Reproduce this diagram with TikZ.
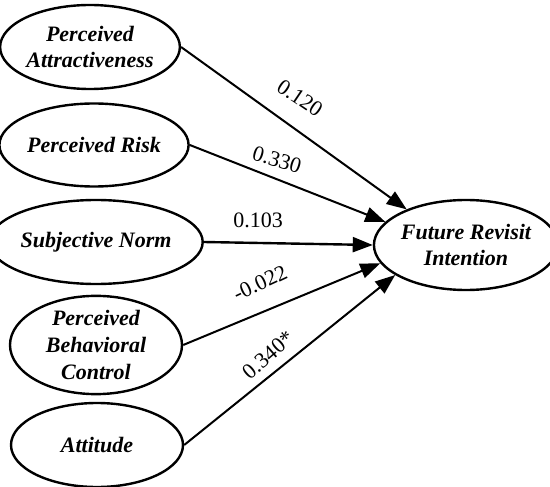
\documentclass[tikz,border=0pt]{standalone}
\usepackage{fontspec}
\setmainfont{Liberation Serif}
\usetikzlibrary{shapes.geometric,arrows.meta}
\tikzset{
  construct/.style={draw=black, line width=2.4pt, ellipse, inner sep=0pt,
    minimum width=172pt, minimum height=84pt, align=center,
    font=\fontsize{22}{26}\selectfont\bfseries\itshape},
  path/.style={draw=black, line width=2pt, -{Triangle[length=20pt,width=15pt]}},
  coef/.style={font=\fontsize{22}{24}\selectfont, inner sep=0pt}
}
\begin{document}
\begin{tikzpicture}[x=1pt,y=-1pt]
\useasboundingbox (0,0) rectangle (550,487);
\node[construct] (pa) at (90,47) {Perceived\\Attractiveness};
\node[construct, minimum height=83pt] (pr) at (94,145) {Perceived Risk};
\node[construct] (sn) at (96,242) {Subjective Norm};
\node[construct, font=\fontsize{22}{27}\selectfont\bfseries\itshape] (pbc) at (96,345) {Perceived\\Behavioral\\Control};
\node[construct] (at) at (97,445) {Attitude};
\node[construct, minimum width=168pt, minimum height=90pt] (fri) at (466,245) {Future Revisit\\Intention};
\draw[path] (pa.east) -- (fri.149);
\draw[path] (pr.east) -- (fri.164);
\draw[path, line width=2.4pt] (sn.east) -- (fri.180);
\draw[path] (pbc.east) -- (fri.192);
\draw[path] (at.east) -- (fri.203);
\node[coef, rotate=-34] (l1) at (300,98) {0.120};
\node[coef, rotate=-17] (l2) at (277,160) {0.330};
\node[coef] (l3) at (258,220) {0.103};
\node[coef, rotate=25] (l4) at (260,283) {-0.022};
\node[coef, rotate=41] (l5) at (268,355) {0.340*};
\end{tikzpicture}
\end{document}
